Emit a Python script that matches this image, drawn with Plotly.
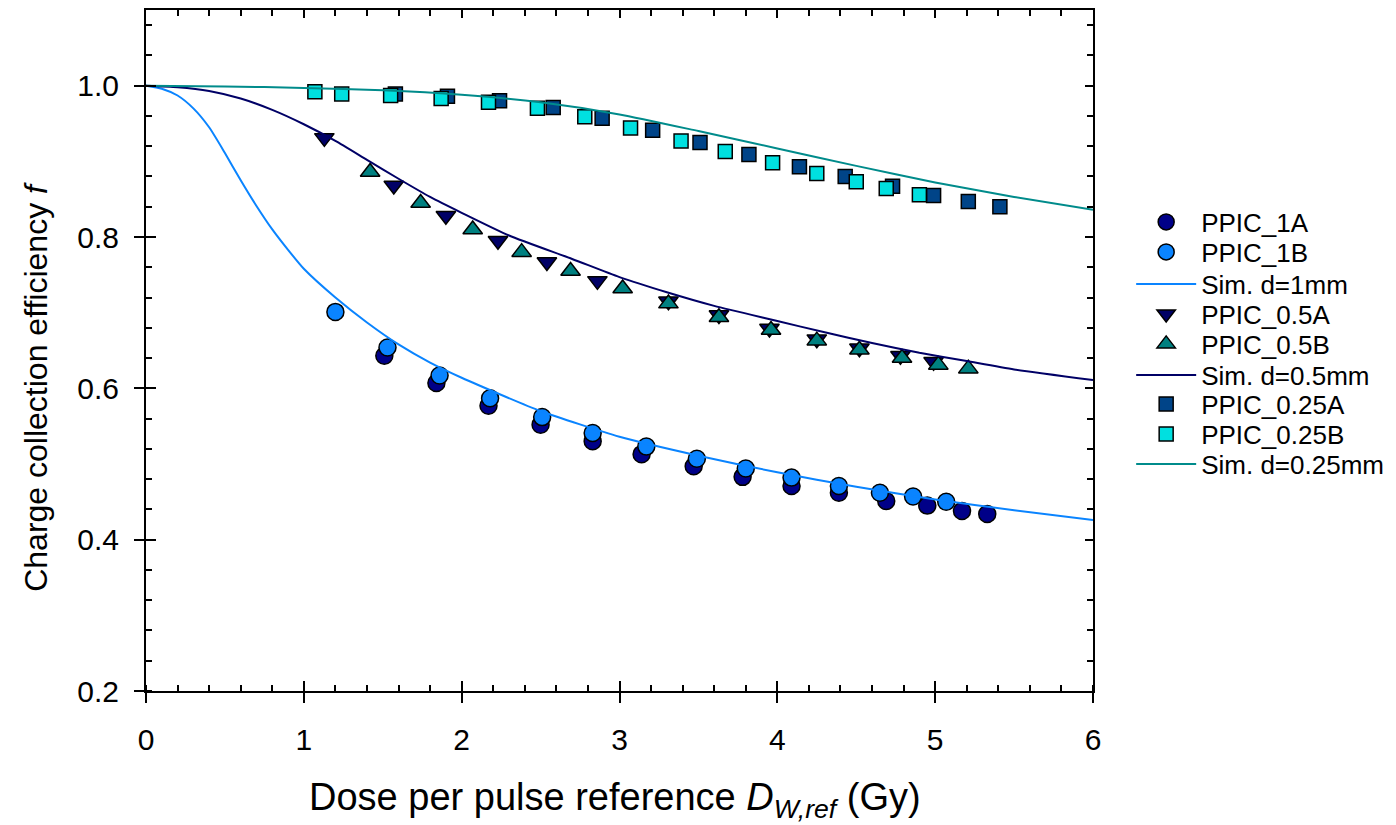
import plotly.graph_objects as go

# ---------------- data ----------------
ppic_1a_x = [1.51, 1.84, 2.17, 2.50, 2.83, 3.14, 3.47, 3.78, 4.09, 4.39, 4.69, 4.95, 5.17, 5.33]
ppic_1a_y = [0.643, 0.607, 0.577, 0.552, 0.530, 0.513, 0.497, 0.483, 0.471, 0.462, 0.451, 0.445, 0.438, 0.434]

ppic_1b_x = [1.20, 1.53, 1.86, 2.18, 2.51, 2.83, 3.17, 3.49, 3.80, 4.09, 4.39, 4.65, 4.86, 5.07]
ppic_1b_y = [0.701, 0.654, 0.617, 0.587, 0.562, 0.541, 0.523, 0.507, 0.494, 0.482, 0.471, 0.462, 0.457, 0.450]

sim_1_x = [0, 0.1, 0.2, 0.3, 0.4, 0.5, 0.6, 0.7, 0.8, 0.9, 1.0, 1.2, 1.4, 1.6, 1.8, 2.0,
           2.5, 3.0, 3.5, 4.0, 4.5, 5.0, 5.5, 6.0]
sim_1_y = [1.0, 0.996, 0.987, 0.970, 0.945, 0.911, 0.875, 0.841, 0.810, 0.783, 0.758, 0.720,
           0.687, 0.658, 0.634, 0.614, 0.570, 0.536, 0.511, 0.489, 0.470, 0.453, 0.439, 0.426]

ppic_05a_x = [1.13, 1.57, 1.90, 2.23, 2.54, 2.86, 3.31, 3.63, 3.95, 4.25, 4.52, 4.78, 4.99]
ppic_05a_y = [0.931, 0.868, 0.828, 0.795, 0.767, 0.742, 0.715, 0.697, 0.679, 0.665, 0.653, 0.643, 0.635]

ppic_05b_x = [1.42, 1.74, 2.07, 2.38, 2.69, 3.02, 3.31, 3.63, 3.96, 4.25, 4.52, 4.79, 5.02, 5.21]
ppic_05b_y = [0.886, 0.845, 0.810, 0.780, 0.755, 0.732, 0.712, 0.694, 0.677, 0.663, 0.651, 0.640, 0.631, 0.626]

sim_05_x = [0, 0.2, 0.4, 0.6, 0.8, 1.0, 1.2, 1.4, 1.6, 1.8, 2.0, 2.3, 2.7, 3.0, 3.3, 3.6,
            4.0, 4.3, 4.6, 4.9, 5.2, 5.5, 6.0]
sim_05_y = [1.0, 0.998, 0.993, 0.983, 0.968, 0.949, 0.927, 0.902, 0.877, 0.853, 0.832, 0.802,
            0.771, 0.747, 0.727, 0.709, 0.689, 0.674, 0.660, 0.647, 0.636, 0.625, 0.611]

ppic_025a_x = [1.58, 1.91, 2.24, 2.58, 2.89, 3.21, 3.51, 3.82, 4.14, 4.43, 4.73, 4.99, 5.21, 5.41]
ppic_025a_y = [0.989, 0.986, 0.980, 0.971, 0.957, 0.941, 0.925, 0.909, 0.893, 0.880, 0.867, 0.855, 0.847, 0.840]

ppic_025b_x = [1.07, 1.24, 1.55, 1.87, 2.17, 2.48, 2.78, 3.07, 3.39, 3.67, 3.97, 4.25, 4.50, 4.69, 4.90]
ppic_025b_y = [0.992, 0.989, 0.987, 0.983, 0.978, 0.970, 0.959, 0.944, 0.927, 0.913, 0.898, 0.884, 0.873, 0.864, 0.856]

sim_025_x = [0, 0.5, 1.0, 1.5, 2.0, 2.5, 3.0, 3.5, 4.0, 4.5, 5.0, 5.5, 6.0]
sim_025_y = [1.0, 0.999, 0.997, 0.994, 0.988, 0.978, 0.962, 0.940, 0.917, 0.894, 0.872, 0.853, 0.836]

x_range = [0, 6]
y_range = [0.2, 1.1]
x_ticks = [0, 1, 2, 3, 4, 5, 6]
y_ticks = [0.2, 0.4, 0.6, 0.8, 1.0]
y_ticklabels = ["0.2", "0.4", "0.6", "0.8", "1.0"]

FONT = "Liberation Sans, Arial, sans-serif"

# plot area in the page: x 146..1093, y 10..691 (page has an 8 px body margin)
PLOT_W, PLOT_H = 947, 681
legend_rows_px = [222, 252, 284, 314, 344, 375, 404, 434, 464]

fig = go.Figure()


def markers(x, y, name, symbol, color, size, lg):
    return go.Scatter(x=x, y=y, mode="markers", name=name, legend=lg,
                      marker=dict(symbol=symbol, color=color, size=size,
                                  line=dict(color="black", width=1.5)))


def curve(x, y, name, color, lg):
    return go.Scatter(x=x, y=y, mode="lines", name=name, legend=lg,
                      line=dict(color=color, width=2, shape="spline", smoothing=0.6))


fig.add_trace(markers(ppic_1a_x, ppic_1a_y, "PPIC_1A", "circle", "#000088", 17, "legend"))
fig.add_trace(markers(ppic_1b_x, ppic_1b_y, "PPIC_1B", "circle", "#0A84FF", 17, "legend2"))
fig.add_trace(curve(sim_1_x, sim_1_y, "Sim. d=1mm", "#0A84FF", "legend3"))
fig.add_trace(markers(ppic_05a_x, ppic_05a_y, "PPIC_0.5A", "triangle-down", "#000066", 17, "legend4"))
fig.add_trace(markers(ppic_05b_x, ppic_05b_y, "PPIC_0.5B", "triangle-up", "#008080", 17, "legend5"))
fig.add_trace(curve(sim_05_x, sim_05_y, "Sim. d=0.5mm", "#000066", "legend6"))
fig.add_trace(markers(ppic_025a_x, ppic_025a_y, "PPIC_0.25A", "square", "#004488", 14, "legend7"))
fig.add_trace(markers(ppic_025b_x, ppic_025b_y, "PPIC_0.25B", "square", "#00E0E0", 14, "legend8"))
fig.add_trace(curve(sim_025_x, sim_025_y, "Sim. d=0.25mm", "#008B8B", "legend9"))

# dummy traces so that the extra tick axes are drawn
for xa, ya in [("x2", "y"), ("x3", "y"), ("x", "y2"), ("x", "y3")]:
    fig.add_trace(go.Scatter(x=[None], y=[None], xaxis=xa, yaxis=ya,
                             showlegend=False, hoverinfo="skip"))

common = dict(showgrid=False, zeroline=False)

legends = {}
for i, row in enumerate(legend_rows_px):
    key = "legend" if i == 0 else f"legend{i + 1}"
    legends[key] = dict(x=1.0403, y=(691 - row) / PLOT_H, xanchor="left", yanchor="middle",
                        font=dict(size=26, family=FONT), bgcolor="rgba(0,0,0,0)",
                        borderwidth=0, itemwidth=60)

fig.update_layout(
    width=1388, height=817,
    paper_bgcolor="white", plot_bgcolor="white",
    margin=dict(l=138, r=303, t=2, b=134),
    font=dict(family=FONT, color="black"),
    showlegend=True,
    **legends,
    xaxis=dict(range=x_range, tickmode="array", tickvals=x_ticks,
               ticks="outside", ticklen=10, tickwidth=2, tickcolor="black",
               showline=True, linewidth=2, linecolor="black", mirror=False,
               tickfont=dict(size=30, family=FONT), ticklabelstandoff=11,
               minor=dict(dtick=0.2, ticks="inside", ticklen=6, tickwidth=1.5,
                          tickcolor="black"),
               **common),
    xaxis2=dict(range=x_range, overlaying="x", anchor="y", side="bottom",
                tickmode="array", tickvals=x_ticks, ticks="inside", ticklen=10,
                tickwidth=2, tickcolor="black", showticklabels=False,
                showline=False, **common),
    xaxis3=dict(range=x_range, overlaying="x", anchor="y", side="top",
                tickmode="array", tickvals=x_ticks, ticks="inside", ticklen=8,
                tickwidth=2, tickcolor="black", showticklabels=False,
                showline=True, linewidth=2, linecolor="black",
                minor=dict(dtick=0.2, ticks="inside", ticklen=6, tickwidth=1.5,
                           tickcolor="black"),
                **common),
    yaxis=dict(range=y_range, tickmode="array", tickvals=y_ticks, ticktext=y_ticklabels,
               ticks="outside", ticklen=10, tickwidth=2, tickcolor="black",
               showline=True, linewidth=2, linecolor="black", mirror=False,
               tickfont=dict(size=30, family=FONT), ticklabelstandoff=9,
               minor=dict(tick0=0.2, dtick=0.04, ticks="inside", ticklen=6,
                          tickwidth=1.5, tickcolor="black"),
               **common),
    yaxis2=dict(range=y_range, overlaying="y", anchor="x", side="left",
                tickmode="array", tickvals=y_ticks, ticks="inside", ticklen=10,
                tickwidth=2, tickcolor="black", showticklabels=False,
                showline=False, **common),
    yaxis3=dict(range=y_range, overlaying="y", anchor="x", side="right",
                tickmode="array", tickvals=y_ticks, ticks="inside", ticklen=8,
                tickwidth=2, tickcolor="black", showticklabels=False,
                showline=True, linewidth=2, linecolor="black",
                minor=dict(tick0=0.2, dtick=0.04, ticks="inside", ticklen=6,
                           tickwidth=1.5, tickcolor="black"),
                **common),
    annotations=[
        dict(text="Dose per pulse reference <i>D</i><sub><i>W,ref</i></sub> (Gy)",
             xref="paper", yref="paper", x=0.495, y=-0.16, xanchor="center",
             yanchor="middle", showarrow=False, font=dict(size=38, family=FONT)),
        dict(text="Charge collection efficiency <i>f</i>",
             xref="paper", yref="paper", x=-0.117, y=0.447, xanchor="center",
             yanchor="middle", textangle=-90, showarrow=False,
             font=dict(size=32, family=FONT)),
    ],
)

fig.write_html("out.html")
